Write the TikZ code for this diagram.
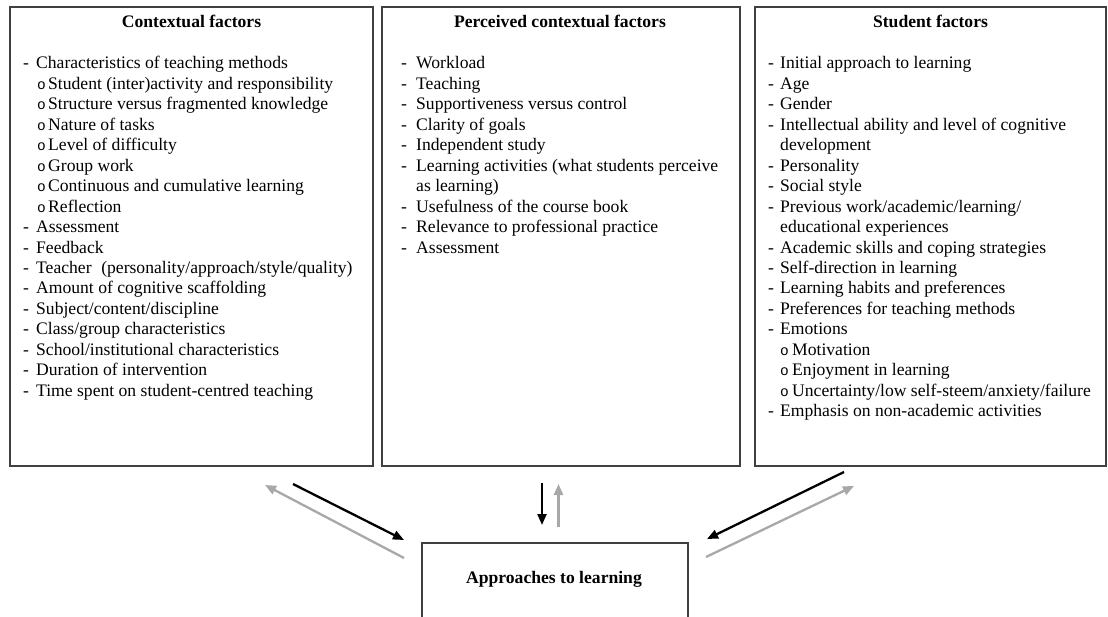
\documentclass[tikz,border=0pt]{standalone}
\usepackage{fontspec}
\setmainfont{Liberation Serif}
\newfontfamily\bulletfam{Liberation Mono}
\usetikzlibrary{arrows.meta}
\definecolor{boxline}{HTML}{404040}
\definecolor{backarrow}{HTML}{A8A8A8}
\newcommand{\dsh}[1]{\makebox[#1][l]{-}}
\newcommand{\sbl}[1]{\makebox[#1][l]{{\bulletfam\fontsize{14.5}{14.5}\selectfont o}}}
\tikzset{
  panel/.style={draw=boxline, line width=1.5pt},
  itemtxt/.style={anchor=base west, inner sep=0pt, font=\fontsize{17.6}{20.45}\selectfont},
  titletxt/.style={anchor=base, inner sep=0pt, font=\fontsize{17.6}{20.45}\selectfont\bfseries},
  fwd/.style={draw=black, line width=2.3pt, -{Triangle[length=11pt,width=9pt]}},
  bwd/.style={draw=backarrow, line width=2.3pt, -{Triangle[length=11pt,width=9pt]}},
}
\begin{document}
\begin{tikzpicture}[x=1pt,y=-1pt]
\useasboundingbox (0,0) rectangle (1108,617);
\clip (0,0) rectangle (1108,617);
\fill[white] (0,0) rectangle (1108,617);

% boxes
\draw[panel] (10,7) rectangle (373,466);
\draw[panel] (382,7) rectangle (740,466);
\draw[panel] (755,7) rectangle (1106,466);
\node[panel, minimum width=266pt, minimum height=110pt, anchor=north west, inner sep=0pt] (appr) at (421,542) {};

% titles
\node[titletxt] (t1) at (191.5,28) {Contextual factors};
\node[titletxt] (t2) at (560,28) {Perceived contextual factors};
\node[titletxt] (t3) at (930.5,28) {Student factors};
\node[titletxt] (t4) at (554,583) {Approaches to learning};

% left column
\node[itemtxt] (l1) at (23,69) {\dsh{13pt}Characteristics of teaching methods};
\node[itemtxt] (l2) at (37,89.45) {\sbl{11pt}Student (inter)activity and responsibility};
\node[itemtxt] (l3) at (37,109.9) {\sbl{11pt}Structure versus fragmented knowledge};
\node[itemtxt] (l4) at (37,130.35) {\sbl{11pt}Nature of tasks};
\node[itemtxt] (l5) at (37,150.8) {\sbl{11pt}Level of difficulty};
\node[itemtxt] (l6) at (37,171.25) {\sbl{11pt}Group work};
\node[itemtxt] (l7) at (37,191.7) {\sbl{11pt}Continuous and cumulative learning};
\node[itemtxt] (l8) at (37,212.15) {\sbl{11pt}Reflection};
\node[itemtxt] (l9) at (23,232.6) {\dsh{13pt}Assessment};
\node[itemtxt] (l10) at (23,253.05) {\dsh{13pt}Feedback};
\node[itemtxt] (l11) at (23,273.5) {\dsh{13pt}Teacher\hspace{0.3em} (personality/approach/style/quality)};
\node[itemtxt] (l12) at (23,293.95) {\dsh{13pt}Amount of cognitive scaffolding};
\node[itemtxt] (l13) at (23,314.4) {\dsh{13pt}Subject/content/discipline};
\node[itemtxt] (l14) at (23,334.85) {\dsh{13pt}Class/group characteristics};
\node[itemtxt] (l15) at (23,355.3) {\dsh{13pt}School/institutional characteristics};
\node[itemtxt] (l16) at (23,375.75) {\dsh{13pt}Duration of intervention};
\node[itemtxt] (l17) at (23,396.2) {\dsh{13pt}Time spent on student-centred teaching};

% middle column
\node[itemtxt] (m1) at (401,69) {\dsh{15pt}Workload};
\node[itemtxt] (m2) at (401,89.45) {\dsh{15pt}Teaching};
\node[itemtxt] (m3) at (401,109.9) {\dsh{15pt}Supportiveness versus control};
\node[itemtxt] (m4) at (401,130.35) {\dsh{15pt}Clarity of goals};
\node[itemtxt] (m5) at (401,150.8) {\dsh{15pt}Independent study};
\node[itemtxt] (m6) at (401,171.25) {\dsh{15pt}Learning activities (what students perceive};
\node[itemtxt] (m7) at (416,191.7) {as learning)};
\node[itemtxt] (m8) at (401,212.15) {\dsh{15pt}Usefulness of the course book};
\node[itemtxt] (m9) at (401,232.6) {\dsh{15pt}Relevance to professional practice};
\node[itemtxt] (m10) at (401,253.05) {\dsh{15pt}Assessment};

% right column
\node[itemtxt] (r1) at (768,69) {\dsh{12pt}Initial approach to learning};
\node[itemtxt] (r2) at (768,89.45) {\dsh{12pt}Age};
\node[itemtxt] (r3) at (768,109.9) {\dsh{12pt}Gender};
\node[itemtxt] (r4) at (768,130.35) {\dsh{12pt}Intellectual ability and level of cognitive};
\node[itemtxt] (r5) at (780,150.8) {development};
\node[itemtxt] (r6) at (768,171.25) {\dsh{12pt}Personality};
\node[itemtxt] (r7) at (768,191.7) {\dsh{12pt}Social style};
\node[itemtxt] (r8) at (768,212.15) {\dsh{12pt}Previous work/academic/learning/};
\node[itemtxt] (r9) at (780,232.6) {educational experiences};
\node[itemtxt] (r10) at (768,253.05) {\dsh{12pt}Academic skills and coping strategies};
\node[itemtxt] (r11) at (768,273.5) {\dsh{12pt}Self-direction in learning};
\node[itemtxt] (r12) at (768,293.95) {\dsh{12pt}Learning habits and preferences};
\node[itemtxt] (r13) at (768,314.4) {\dsh{12pt}Preferences for teaching methods};
\node[itemtxt] (r14) at (768,334.85) {\dsh{12pt}Emotions};
\node[itemtxt] (r15) at (780,355.3) {\sbl{12pt}Motivation};
\node[itemtxt] (r16) at (780,375.75) {\sbl{12pt}Enjoyment in learning};
\node[itemtxt] (r17) at (780,396.2) {\sbl{12pt}Uncertainty/low self-steem/anxiety/failure};
\node[itemtxt] (r18) at (768,416.65) {\dsh{12pt}Emphasis on non-academic activities};

% arrow end points
\coordinate (lbS) at (293,484);
\coordinate (lbE) at (404,540);
\coordinate (lgS) at (404,558);
\coordinate (lgE) at (265,485);
\coordinate (mbS) at (542,483);
\coordinate (mbE) at (542,525);
\coordinate (mgS) at (558.5,527);
\coordinate (mgE) at (558.5,484);
\coordinate (rbS) at (844,472);
\coordinate (rbE) at (707,539);
\coordinate (rgS) at (706,557);
\coordinate (rgE) at (854,486);

\draw[fwd] (lbS) -- (lbE);
\draw[bwd] (lgS) -- (lgE);
\draw[fwd] (mbS) -- (mbE);
\draw[bwd] (mgS) -- (mgE);
\draw[fwd] (rbS) -- (rbE);
\draw[bwd] (rgS) -- (rgE);
\end{tikzpicture}
\end{document}
